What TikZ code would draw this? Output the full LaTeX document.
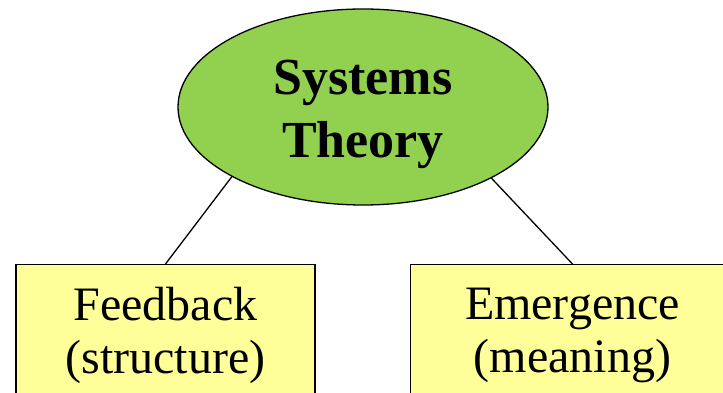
\documentclass[tikz,border=0pt]{standalone}
\usepackage{fontspec}
\setmainfont{Liberation Serif}
\usetikzlibrary{shapes.geometric, positioning}
\definecolor{vertclair}{HTML}{92D050}
\definecolor{jaunepale}{HTML}{FFFF99}

\begin{document}
\begin{tikzpicture}[x=1pt, y=-1pt, line width=1.3pt,
    racine/.style={ellipse, draw, fill=vertclair, minimum width=370pt, minimum height=196pt, inner sep=0pt},
    titre/.style={align=center, font=\fontsize{52}{63}\selectfont\bfseries},
    boite/.style={rectangle, draw, fill=jaunepale, anchor=north, minimum height=141pt, align=center, font=\fontsize{48}{53}\selectfont}]
        % Cadre de l'image
        \clip (0,0) rectangle (723,393);

        % Noeud central
        \node[racine] (theory) at (363,107) {};
        \node[titre] (theorytext) at ([yshift=-7pt]theory.center) {Systems\\Theory};

        % Les deux branches
        \node[boite, minimum width=299pt] (feedback) at (165.5,264) {Feedback\\(structure)};
        \node[boite, minimum width=324pt] (emergence) at (572.5,264) {Emergence\\(meaning)};

        % Liaisons
        \draw (theory.208.5) -- (feedback.north);
        \draw (theory.331.5) -- (emergence.north);
    \end{tikzpicture}
\end{document}
